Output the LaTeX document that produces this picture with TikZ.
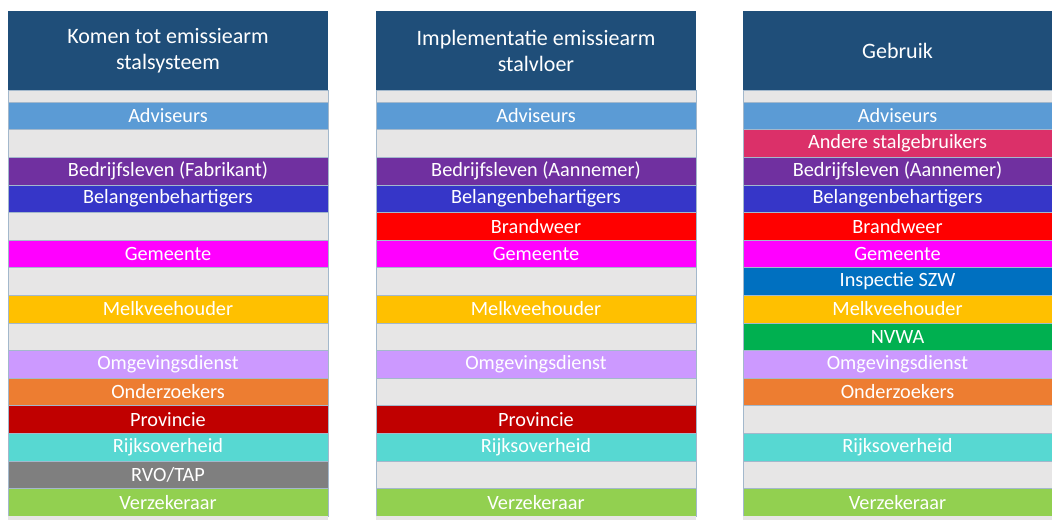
\documentclass[tikz,border=0pt]{standalone}
\usepackage{fontspec}
\setmainfont{Carlito}
\definecolor{hdr}{HTML}{1F4E79}
\definecolor{grayrow}{HTML}{E7E6E6}
\definecolor{sepc}{HTML}{A3B8CC}
\definecolor{cadv}{HTML}{5B9BD5}
\definecolor{cbedr}{HTML}{7030A0}
\definecolor{cbelang}{HTML}{3636C8}
\definecolor{cgem}{HTML}{FF00FF}
\definecolor{cmelk}{HTML}{FFC000}
\definecolor{comg}{HTML}{CC99FF}
\definecolor{cond}{HTML}{ED7D31}
\definecolor{cprov}{HTML}{C00000}
\definecolor{crijks}{HTML}{57D8D2}
\definecolor{crvo}{HTML}{7F7F7F}
\definecolor{cverz}{HTML}{92D050}
\definecolor{cbrand}{HTML}{FF0000}
\definecolor{candere}{HTML}{DB3069}
\definecolor{cinsp}{HTML}{0070C0}
\definecolor{cnvwa}{HTML}{00B050}
\begin{document}
\begin{tikzpicture}[x=0.75pt,y=-0.75pt,
  cell/.style={anchor=north west, minimum height=20.7pt, inner sep=0pt, outer sep=0pt,
    text=white, font=\fontsize{15.2}{17}\selectfont, draw=sepc, line width=0.4pt},
  gap/.style={cell, fill=grayrow},
  thin/.style={anchor=north west, minimum height=9pt, inner sep=0pt, outer sep=0pt,
    fill=grayrow, draw=sepc, line width=0.4pt},
  tail/.style={anchor=north west, minimum height=3pt, inner sep=0pt, outer sep=0pt,
    fill=grayrow},
  wa/.style={minimum width=240pt},
  wb/.style={minimum width=231.75pt},
  head/.style={anchor=north west, minimum height=59.25pt, fill=hdr, text=white,
    align=center, font=\fontsize{16.5}{19.5}\selectfont, inner sep=0pt, outer sep=0pt}]
\useasboundingbox (0,0) rectangle (1052,520);

% ---------- Column 1 ----------
\node[head,wa] (h1) at (8,11) {Komen tot emissiearm\\stalsysteem};
\node[thin,wa] (a0) at (8,90) {};
\node[cell,wa,fill=cadv]    (a1)  at (8,102)   {Adviseurs};
\node[gap,wa]               (a2)  at (8,129.6) {};
\node[cell,wa,fill=cbedr]   (a3)  at (8,157.2) {Bedrijfsleven (Fabrikant)};
\node[cell,wa,fill=cbelang] (a4)  at (8,184.8) {Belangenbehartigers};
\node[gap,wa]               (a5)  at (8,212.4) {};
\node[cell,wa,fill=cgem]    (a6)  at (8,240)   {Gemeente};
\node[gap,wa]               (a7)  at (8,267.6) {};
\node[cell,wa,fill=cmelk]   (a8)  at (8,295.2) {Melkveehouder};
\node[gap,wa]               (a9)  at (8,322.8) {};
\node[cell,wa,fill=comg]    (a10) at (8,350.4) {Omgevingsdienst};
\node[cell,wa,fill=cond]    (a11) at (8,378)   {Onderzoekers};
\node[cell,wa,fill=cprov]   (a12) at (8,405.6) {Provincie};
\node[cell,wa,fill=crijks]  (a13) at (8,433.2) {Rijksoverheid};
\node[cell,wa,fill=crvo]    (a14) at (8,460.8) {RVO/TAP};
\node[cell,wa,fill=cverz]   (a15) at (8,488.4) {Verzekeraar};
\node[tail,wa]              (a16) at (8,516)   {};

% ---------- Column 2 ----------
\node[head,wa] (h2) at (376,11) {Implementatie emissiearm\\stalvloer};
\node[thin,wa] (b0) at (376,90) {};
\node[cell,wa,fill=cadv]    (b1)  at (376,102)   {Adviseurs};
\node[gap,wa]               (b2)  at (376,129.6) {};
\node[cell,wa,fill=cbedr]   (b3)  at (376,157.2) {Bedrijfsleven (Aannemer)};
\node[cell,wa,fill=cbelang] (b4)  at (376,184.8) {Belangenbehartigers};
\node[cell,wa,fill=cbrand]  (b5)  at (376,212.4) {Brandweer};
\node[cell,wa,fill=cgem]    (b6)  at (376,240)   {Gemeente};
\node[gap,wa]               (b7)  at (376,267.6) {};
\node[cell,wa,fill=cmelk]   (b8)  at (376,295.2) {Melkveehouder};
\node[gap,wa]               (b9)  at (376,322.8) {};
\node[cell,wa,fill=comg]    (b10) at (376,350.4) {Omgevingsdienst};
\node[gap,wa]               (b11) at (376,378)   {};
\node[cell,wa,fill=cprov]   (b12) at (376,405.6) {Provincie};
\node[cell,wa,fill=crijks]  (b13) at (376,433.2) {Rijksoverheid};
\node[gap,wa]               (b14) at (376,460.8) {};
\node[cell,wa,fill=cverz]   (b15) at (376,488.4) {Verzekeraar};
\node[tail,wa]              (b16) at (376,516)   {};

% ---------- Column 3 ----------
\node[head,wb] (h3) at (743,11) {Gebruik};
\node[thin,wb] (c0) at (743,90) {};
\node[cell,wb,fill=cadv]    (c1)  at (743,102)   {Adviseurs};
\node[cell,wb,fill=candere] (c2)  at (743,129.6) {Andere stalgebruikers};
\node[cell,wb,fill=cbedr]   (c3)  at (743,157.2) {Bedrijfsleven (Aannemer)};
\node[cell,wb,fill=cbelang] (c4)  at (743,184.8) {Belangenbehartigers};
\node[cell,wb,fill=cbrand]  (c5)  at (743,212.4) {Brandweer};
\node[cell,wb,fill=cgem]    (c6)  at (743,240)   {Gemeente};
\node[cell,wb,fill=cinsp]   (c7)  at (743,267.6) {Inspectie SZW};
\node[cell,wb,fill=cmelk]   (c8)  at (743,295.2) {Melkveehouder};
\node[cell,wb,fill=cnvwa]   (c9)  at (743,322.8) {NVWA};
\node[cell,wb,fill=comg]    (c10) at (743,350.4) {Omgevingsdienst};
\node[cell,wb,fill=cond]    (c11) at (743,378)   {Onderzoekers};
\node[gap,wb]               (c12) at (743,405.6) {};
\node[cell,wb,fill=crijks]  (c13) at (743,433.2) {Rijksoverheid};
\node[gap,wb]               (c14) at (743,460.8) {};
\node[cell,wb,fill=cverz]   (c15) at (743,488.4) {Verzekeraar};
\node[tail,wb]              (c16) at (743,516)   {};
\end{tikzpicture}
\end{document}
